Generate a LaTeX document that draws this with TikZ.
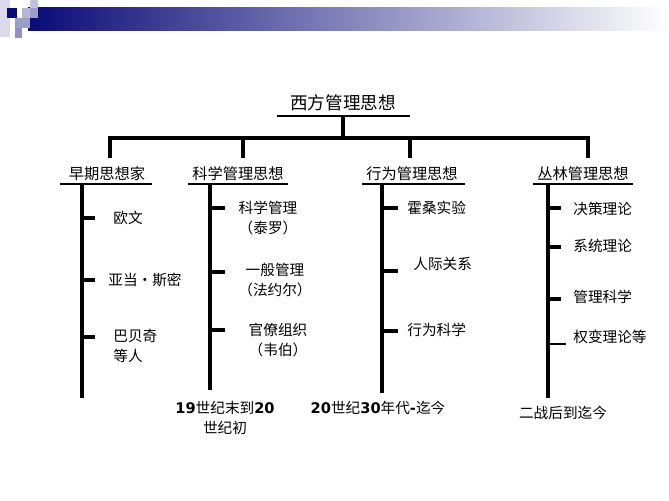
\documentclass[tikz,border=0pt]{standalone}
\usepackage{fontspec}
\setmainfont{Noto Sans CJK SC}
\newfontfamily\numfont{DejaVu Sans}
\usetikzlibrary{positioning}
\definecolor{navyb}{RGB}{10,10,120}
\begin{document}
\begin{tikzpicture}[x=0.03cm, y=-0.03cm,
    heading/.style={font=\fontsize{13}{15}\selectfont, inner sep=1pt},
    item/.style={font=\fontsize{12.5}{17}\selectfont, align=center, inner sep=1pt},
    era/.style={font=\fontsize{12.5}{17}\selectfont, align=center, inner sep=1pt},
    trunk/.style={line width=2.6pt},
    ulined/.style={line width=0.9pt}
]
\useasboundingbox (0,0) rectangle (669,500);

% banner
\shade[left color=navyb, right color=white] (28,7) rectangle (669,30);
\fill[navyb!15] (0,0) rectangle (10,37);
\fill[navyb] (7,8) rectangle (17,18);
\fill[navyb!30] (22,8) rectangle (30,18);
\fill[navyb!40] (15,18) rectangle (30,28);
\fill[navyb!25] (30,0) rectangle (38,8);
\fill[navyb!40] (30,8) rectangle (38,18);
\fill[navyb!45] (15,28) rectangle (22,38);

% title
\node[heading, font=\fontsize{15}{17}\selectfont] (root) at (343,103) {西方管理思想};
\draw[ulined] (277,116) -- (410,116);
\coordinate (rootb) at (343,116);
\coordinate (bar) at (343,138);
\draw[trunk] (rootb) -- (bar);
\draw[trunk] (110,158) -- (110,138) -- (588,138) -- (588,158);
\draw[trunk] (243,138) -- (243,158);
\draw[trunk] (410,138) -- (410,158);

% branches
\node[heading] (early) at (107,174) {早期思想家};
\node[heading] (sci) at (238,174) {科学管理思想};
\node[heading] (beh) at (412,174) {行为管理思想};
\node[heading] (jung) at (583,174) {丛林管理思想};
\foreach \n/\a/\b in {early/60/152, sci/188/288, beh/362/465, jung/533/633}
  \draw[ulined] (\a,184) -- (\b,184);

% trunks
\coordinate (t1) at (82,184);  \coordinate (e1) at (82,398);
\coordinate (t2) at (210,184); \coordinate (e2) at (210,390);
\coordinate (t3) at (382,184); \coordinate (e3) at (382,393);
\coordinate (t4) at (548,184); \coordinate (e4) at (548,398);
\foreach \i in {1,2,3,4} \draw[trunk] (t\i) -- (e\i);

% early thinkers
\foreach \y in {218,280,337} \draw[trunk] (82,\y) -- (95,\y);
\node[item, anchor=west] (owen) at (112,218) {欧文};
\node[item, anchor=west] (smith) at (107,280) {亚当•斯密};
\node[item, anchor=west, align=left] (babb) at (112,346) {巴贝奇\\等人};

% scientific management
\foreach \y in {208,272,330} \draw[trunk] (210,\y) -- (225,\y);
\node[item] (taylor) at (268,218) {科学管理\\（泰罗）};
\node[item] (fayol) at (275,280) {一般管理\\（法约尔）};
\node[item] (weber) at (278,340) {官僚组织\\（韦伯）};

% behavioural
\foreach \y in {208,271,331} \draw[trunk] (382,\y) -- (398,\y);
\node[item, anchor=west] (hawth) at (406,208) {霍桑实验};
\node[item, anchor=west] (human) at (412,264) {人际关系};
\node[item, anchor=west] (behsci) at (406,330) {行为科学};

% jungle
\foreach \y in {208,247,299} \draw[trunk] (548,\y) -- (561,\y);
\draw[line width=1pt] (548,344) -- (566,344);
\node[item, anchor=west] (dec) at (572,209) {决策理论};
\node[item, anchor=west] (sys) at (572,246) {系统理论};
\node[item, anchor=west] (ms) at (572,297) {管理科学};
\node[item, anchor=west] (cont) at (572,337) {权变理论等};

% eras
\node[era] (era2) at (225,418) {{\numfont\bfseries 19}世纪末到{\numfont\bfseries 20}\\世纪初};
\node[era] (era3) at (378,408) {{\numfont\bfseries 20}世纪{\numfont\bfseries 30}年代{\numfont\bfseries -}迄今};
\node[era] (era4) at (563,413) {二战后到迄今};
\end{tikzpicture}
\end{document}
